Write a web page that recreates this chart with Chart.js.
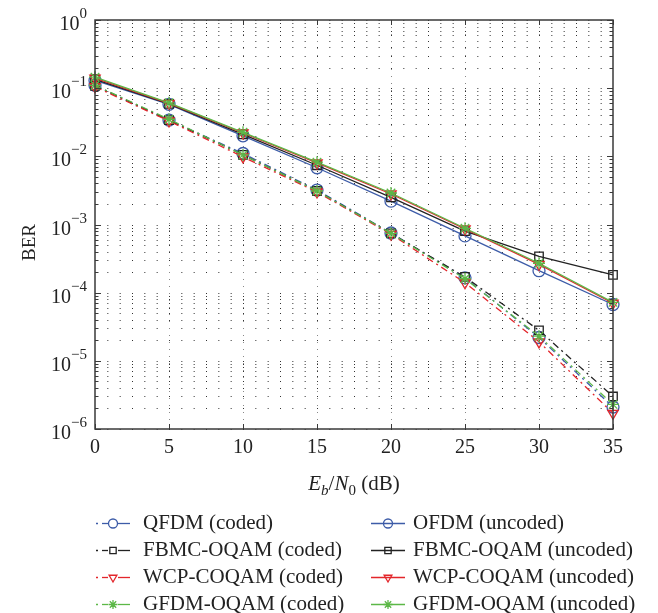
<!DOCTYPE html>
<html>
<head>
<meta charset="utf-8">
<script src="https://cdn.jsdelivr.net/npm/chart.js@4.4.1/dist/chart.umd.min.js"></script>
<style>
  html, body { margin: 0; padding: 0; background: #fff; }
  #wrap { width: 658px; height: 613px; position: relative; }
</style>
</head>
<body>
<div id="wrap"><canvas id="berChart"></canvas></div>
<script>
const ebN0 = [0, 5, 10, 15, 20, 25, 30, 35];
const xTicks = [0, 5, 10, 15, 20, 25, 30, 35];
const yExponents = [0, -1, -2, -3, -4, -5, -6];

const qfdmCoded = [0.11, 0.034, 0.011, 0.0032, 0.00075, 0.000165, 0.000022, 0.0000021];
const fbmcCoded = [0.108, 0.034, 0.0105, 0.0031, 0.00074, 0.00017, 0.000028, 0.0000030];
const wcpCoded = [0.105, 0.033, 0.0098, 0.0030, 0.00072, 0.00014, 0.000019, 0.0000017];
const gfdmCoded = [0.11, 0.035, 0.0105, 0.0031, 0.00074, 0.00016, 0.000023, 0.0000023];

const ofdmUncoded = [0.13, 0.058, 0.020, 0.0068, 0.0022, 0.00068, 0.00021, 0.000067];
const fbmcUncoded = [0.135, 0.059, 0.021, 0.0074, 0.0025, 0.0008, 0.00034, 0.000182];
const wcpUncoded = [0.14, 0.060, 0.022, 0.0080, 0.0028, 0.00086, 0.00026, 0.000070];
const gfdmUncoded = [0.145, 0.061, 0.0225, 0.0082, 0.0029, 0.00088, 0.00027, 0.000072];

const BLUE = "#3d5ca8";
const BLACK = "#222222";
const RED = "#e3262b";
const GREEN = "#5cb847";
const DASH_DOT = [7, 4, 2, 4];
const SERIF = "'Liberation Serif', 'DejaVu Serif', serif";

function toPoints(values) {
  return ebN0.map((x, i) => ({ x: x, y: values[i] }));
}

function series(label, values, color, style, coded, rotation) {
  return {
    label: label,
    data: toPoints(values),
    borderColor: color,
    backgroundColor: "rgba(0,0,0,0)",
    borderWidth: 1.3,
    borderDash: coded ? DASH_DOT : [],
    coded: coded,
    pointStyle: style,
    pointRotation: rotation || 0,
    pointRadius: 6,
    pointBorderColor: color,
    pointBackgroundColor: "rgba(0,0,0,0)",
    pointBorderWidth: 1.3,
    tension: 0,
    clip: false
  };
}

// legend order (two columns: coded left, uncoded right)
const legendItems = [
  series("QFDM (coded)", qfdmCoded, BLUE, "circle", true),
  series("FBMC-OQAM (coded)", fbmcCoded, BLACK, "rect", true),
  series("WCP-COQAM (coded)", wcpCoded, RED, "triangle", true, 180),
  series("GFDM-OQAM (coded)", gfdmCoded, GREEN, "star", true),
  series("OFDM (uncoded)", ofdmUncoded, BLUE, "circle", false),
  series("FBMC-OQAM (uncoded)", fbmcUncoded, BLACK, "rect", false),
  series("WCP-COQAM (uncoded)", wcpUncoded, RED, "triangle", false, 180),
  series("GFDM-OQAM (uncoded)", gfdmUncoded, GREEN, "star", false)
];

// Chart.js draws index 0 on top, so green goes first
const drawOrder = [7, 3, 6, 2, 5, 1, 4, 0].map((i) => legendItems[i]);

function strokeLine(ctx, x1, y1, x2, y2) {
  ctx.beginPath();
  ctx.moveTo(x1, y1);
  ctx.lineTo(x2, y2);
  ctx.stroke();
}

const framePlugin = {
  id: "frame",
  beforeDatasetsDraw(chart) {
    const { ctx, chartArea: a, scales: { x, y } } = chart;
    ctx.save();
    ctx.lineWidth = 1;

    // dotted horizontal grid (major + minor decades)
    const period = (a.right - a.left) / 42;
    ctx.strokeStyle = "#333";
    ctx.setLineDash([1, period - 1]);
    for (let e = -6; e <= 0; e++) {
      for (let m = 1; m <= 9; m++) {
        const v = m * Math.pow(10, e);
        if (v > 1) break;
        const py = Math.round(y.getPixelForValue(v)) + 0.5;
        strokeLine(ctx, a.left, py, a.right, py);
      }
    }

    // dotted vertical grid at major x ticks
    ctx.strokeStyle = "#888";
    ctx.setLineDash([1, 6]);
    xTicks.forEach((t) => {
      if (t === 0 || t === 35) return;
      const px = Math.round(x.getPixelForValue(t)) + 0.5;
      strokeLine(ctx, px, a.top, px, a.bottom);
    });
    ctx.restore();
  },
  afterDraw(chart) {
    const { ctx, chartArea: a, scales: { x, y } } = chart;
    ctx.save();
    ctx.setLineDash([]);

    // axes box
    ctx.strokeStyle = "#3a3a3a";
    ctx.lineWidth = 1.5;
    ctx.strokeRect(a.left, a.top, a.right - a.left, a.bottom - a.top);

    // inward ticks
    ctx.lineWidth = 1;
    for (let e = -6; e <= 0; e++) {
      for (let m = 1; m <= 9; m++) {
        const v = m * Math.pow(10, e);
        if (v > 1) break;
        const py = Math.round(y.getPixelForValue(v)) + 0.5;
        const len = m === 1 ? 6 : 3.5;
        strokeLine(ctx, a.left, py, a.left + len, py);
        strokeLine(ctx, a.right, py, a.right - len, py);
      }
    }
    xTicks.forEach((t) => {
      const px = Math.round(x.getPixelForValue(t)) + 0.5;
      strokeLine(ctx, px, a.top, px, a.top + 5);
      strokeLine(ctx, px, a.bottom, px, a.bottom - 5);
    });

    ctx.fillStyle = "#222";

    // x tick labels
    ctx.font = "20px " + SERIF;
    ctx.textAlign = "center";
    ctx.textBaseline = "middle";
    xTicks.forEach((t) => {
      ctx.fillText(String(t), x.getPixelForValue(t), a.bottom + 19);
    });

    // y tick labels 10^e
    yExponents.forEach((e) => {
      const py = y.getPixelForValue(Math.pow(10, e));
      const expText = e === 0 ? "0" : "\u2212" + Math.abs(e);
      ctx.font = "15px " + SERIF;
      const expW = ctx.measureText(expText).width;
      const right = a.left - 8;
      ctx.textAlign = "right";
      ctx.textBaseline = "alphabetic";
      ctx.fillText(expText, right, py - 2);
      ctx.font = "20px " + SERIF;
      ctx.fillText("10", right - expW, py + 10);
    });

    // y title
    ctx.save();
    ctx.translate(30, (a.top + a.bottom) / 2 + 18);
    ctx.rotate(-Math.PI / 2);
    ctx.font = "19px " + SERIF;
    ctx.textAlign = "center";
    ctx.textBaseline = "middle";
    ctx.fillText("BER", 0, 0);
    ctx.restore();

    // x title: E_b/N_0 (dB)
    const parts = [
      { t: "E", f: "italic 21px ", dy: 0 },
      { t: "b", f: "italic 15px ", dy: 5 },
      { t: "/", f: "21px ", dy: 0 },
      { t: "N", f: "italic 21px ", dy: 0 },
      { t: "0", f: "15px ", dy: 5 },
      { t: " (dB)", f: "21px ", dy: 0 }
    ];
    let total = 0;
    parts.forEach((p) => {
      ctx.font = p.f + SERIF;
      p.w = ctx.measureText(p.t).width;
      total += p.w;
    });
    let cx = (a.left + a.right) / 2 - total / 2;
    ctx.textAlign = "left";
    ctx.textBaseline = "alphabetic";
    parts.forEach((p) => {
      ctx.font = p.f + SERIF;
      ctx.fillText(p.t, cx, 490 + p.dy);
      cx += p.w;
    });

    // legend, two columns
    const rowY = [523, 550, 577, 604];
    const cols = [
      { segs: [[96, 98], [102, 108], [118, 130]], mx: 113, tx: 143 },
      { segs: [[371, 405]], mx: 388, tx: 413 }
    ];
    legendItems.forEach((ds, i) => {
      const col = ds.coded ? cols[0] : cols[1];
      const ly = rowY[i % 4] + 0.5;
      ctx.save();
      ctx.strokeStyle = ds.borderColor;
      ctx.fillStyle = "rgba(0,0,0,0)";
      ctx.lineWidth = 1.3;
      col.segs.forEach((s) => strokeLine(ctx, s[0], ly, s[1], ly));
      if (Chart.helpers && Chart.helpers.drawPoint) {
        Chart.helpers.drawPoint(ctx, {
          pointStyle: ds.pointStyle,
          rotation: ds.pointRotation,
          radius: 4.5,
          borderWidth: 1.3
        }, col.mx, ly);
      }
      ctx.restore();
      ctx.fillStyle = "#222";
      ctx.font = "21px " + SERIF;
      ctx.textAlign = "left";
      ctx.textBaseline = "middle";
      ctx.fillText(ds.label, col.tx, ly);
    });

    ctx.restore();
  }
};

const ctx = document.getElementById("berChart").getContext("2d");
new Chart(ctx, {
  type: "line",
  data: { datasets: drawOrder },
  options: {
    responsive: true,
    maintainAspectRatio: false,
    animation: false,
    layout: { padding: { left: 95, right: 45, top: 20, bottom: 184 } },
    plugins: {
      legend: { display: false },
      tooltip: { enabled: false }
    },
    scales: {
      x: { type: "linear", min: 0, max: 35, display: false },
      y: { type: "logarithmic", min: 1e-6, max: 1, display: false }
    }
  },
  plugins: [framePlugin]
});
</script>
</body>
</html>
